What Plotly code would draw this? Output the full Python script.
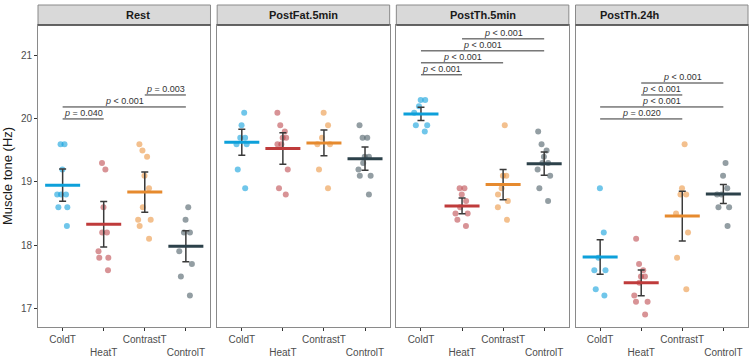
import plotly.graph_objects as go
from plotly.subplots import make_subplots

# ---------------- data ----------------
panels = ["Rest", "PostFat.5min", "PostTh.5min", "PostTh.24h"]
groups = ["ColdT", "HeatT", "ContrastT", "ControlT"]
tick_labels = ["ColdT", "<br>HeatT", "ContrastT", "<br>ControlT"]

rest_cold = [19.6, 19.6, 19.2, 18.8, 18.8, 18.8, 18.6, 18.6, 18.3]
rest_heat = [19.3, 19.2, 18.6, 18.2, 18.2, 17.9, 17.8, 17.8, 17.6]
rest_contrast = [19.6, 19.5, 19.4, 19.1, 18.9, 18.6, 18.4, 18.4, 18.3, 18.1]
rest_control = [18.6, 18.4, 18.2, 18.2, 17.9, 17.7, 17.5, 17.2]

fat5_cold = [20.1, 19.9, 19.7, 19.7, 19.6, 19.6, 19.2, 18.9]
fat5_heat = [20.1, 19.9, 19.8, 19.7, 19.7, 19.6, 19.6, 19.2, 18.9, 18.8]
fat5_contrast = [20.1, 19.9, 19.7, 19.6, 19.6, 19.2, 18.9]
fat5_control = [19.9, 19.7, 19.7, 19.4, 19.4, 19.3, 19.2, 19.1, 19.1, 18.8]

th5_cold = [20.3, 20.3, 20.2, 20.1, 19.9, 19.9, 19.8]
th5_heat = [18.9, 18.9, 18.8, 18.7, 18.6, 18.5, 18.5, 18.4, 18.3]
th5_contrast = [19.9, 19.1, 19.1, 18.9, 18.8, 18.7, 18.6, 18.4]
th5_control = [19.8, 19.6, 19.5, 19.4, 19.3, 19.3, 19.2, 19.1, 18.9, 18.7]

th24_cold = [18.9, 18.2, 17.8, 17.6, 17.6, 17.3, 17.2]
th24_heat = [18.1, 17.7, 17.6, 17.5, 17.5, 17.4, 17.2, 17.1, 17.1, 16.9]
th24_contrast = [19.6, 18.9, 18.8, 18.8, 18.5, 18.2, 17.8, 17.3]
th24_control = [19.3, 19.1, 18.9, 18.8, 18.8, 18.6, 18.6, 18.3]

rest_means = [18.95, 18.33, 18.84, 17.98]
rest_se = [0.255, 0.36, 0.32, 0.245]
fat5_means = [19.63, 19.53, 19.62, 19.37]
fat5_se = [0.205, 0.25, 0.205, 0.185]
th5_means = [20.08, 18.62, 18.96, 19.29]
th5_se = [0.105, 0.125, 0.24, 0.185]
th24_means = [17.81, 17.40, 18.46, 18.81]
th24_se = [0.275, 0.205, 0.395, 0.15]

rest_pairs = [("ColdT", "HeatT", "= 0.040"), ("ColdT", "ControlT", "< 0.001"),
              ("ContrastT", "ControlT", "= 0.003")]
fat5_pairs = []
th5_pairs = [("ColdT", "HeatT", "< 0.001"), ("ColdT", "ContrastT", "< 0.001"),
             ("ColdT", "ControlT", "< 0.001"), ("HeatT", "ControlT", "< 0.001")]
th24_pairs = [("ColdT", "ContrastT", "= 0.020"), ("ColdT", "ControlT", "< 0.001"),
              ("HeatT", "ContrastT", "< 0.001"), ("HeatT", "ControlT", "< 0.001")]

panel_points = [
    [rest_cold, rest_heat, rest_contrast, rest_control],
    [fat5_cold, fat5_heat, fat5_contrast, fat5_control],
    [th5_cold, th5_heat, th5_contrast, th5_control],
    [th24_cold, th24_heat, th24_contrast, th24_control],
]
panel_means = [rest_means, fat5_means, th5_means, th24_means]
panel_se = [rest_se, fat5_se, th5_se, th24_se]
panel_pairs = [rest_pairs, fat5_pairs, th5_pairs, th24_pairs]

# ---------------- styles ----------------
point_colors = ["rgba(16,160,220,0.6)", "rgba(184,58,63,0.55)",
                "rgba(234,140,50,0.55)", "rgba(58,79,87,0.55)"]
mean_colors = ["#0DA0DA", "#BF3B3B", "#E68A2E", "#2C414A"]
FONT = "Liberation Sans, Arial, sans-serif"

W, H = 753, 360
ML, MR, MT, MB = 38, 5, 25, 33
plot_w = W - ML - MR
plot_h = H - MT - MB
gap = 6.67

fig = make_subplots(rows=1, cols=4, shared_yaxes=True,
                    horizontal_spacing=gap / plot_w)

for p, pname in enumerate(panels):
    col = p + 1
    for g, gname in enumerate(groups):
        vals = panel_points[p][g]
        fig.add_trace(go.Box(
            x=[gname] * len(vals), y=vals,
            boxpoints="all", jitter=0.5, pointpos=0, width=0.8,
            marker=dict(color=point_colors[g], size=6, line=dict(width=0)),
            line=dict(width=0, color="rgba(0,0,0,0)"),
            fillcolor="rgba(0,0,0,0)",
            hoverinfo="y", showlegend=False,
        ), row=1, col=col)
    for g, gname in enumerate(groups):
        fig.add_trace(go.Scatter(
            x=[gname], y=[panel_means[p][g]], mode="markers",
            marker=dict(symbol="line-ew", size=25,
                        line=dict(color=mean_colors[g], width=3)),
            error_y=dict(type="data", array=[panel_se[p][g]], visible=True,
                         color="#3a3a3a", thickness=1.5, width=3.5),
            showlegend=False, hoverinfo="y",
        ), row=1, col=col)

    # significance brackets
    allvals = [v for arr in panel_points[p] for v in arr]
    base = max(allvals) + 0.4
    step = 0.19
    xref = "x" if col == 1 else f"x{col}"
    yref = "y" if col == 1 else f"y{col}"
    for k, (a, b, lab) in enumerate(panel_pairs[p]):
        lvl = base + k * step
        ia, ib = groups.index(a), groups.index(b)
        fig.add_shape(type="line", xref=xref, yref=yref,
                      x0=ia, x1=ib, y0=lvl, y1=lvl,
                      line=dict(color="#333333", width=1))
        fig.add_annotation(xref=xref, yref=yref, x=(ia + ib) / 2, y=lvl,
                           text=f"<i>p</i> {lab}", showarrow=False,
                           yanchor="bottom", yshift=-1,
                           font=dict(size=9, color="#333333", family=FONT))

    # strip
    dom = fig.layout[f"xaxis{'' if col == 1 else col}"].domain
    fig.add_shape(type="rect", xref="paper", yref="paper",
                  x0=dom[0], x1=dom[1], y0=1, y1=1 + 20 / plot_h,
                  fillcolor="#D9D9D9", line=dict(color="#8a8a8a", width=1),
                  layer="above")
    fig.add_shape(type="line", xref="paper", yref="paper",
                  x0=dom[0], x1=dom[1], y0=1, y1=1,
                  line=dict(color="#444444", width=1.5), layer="above")
    fig.add_annotation(xref="paper", yref="paper", x=(dom[0] + dom[1]) / 2,
                       y=1 + 10 / plot_h, text="<b>" + pname + "</b>",
                       showarrow=False, yanchor="middle",
                       font=dict(size=11, color="#1a1a1a", family=FONT))

fig.update_xaxes(type="category", categoryorder="array", categoryarray=groups,
                 tickmode="array", tickvals=groups, ticktext=tick_labels,
                 tickangle=0, automargin=False,
                 range=[-0.6, 3.6], showgrid=False, zeroline=False,
                 showline=True, mirror=True, linecolor="#8a8a8a", linewidth=1,
                 ticks="outside", ticklen=3, tickcolor="#333333",
                 tickfont=dict(size=10, color="#4d4d4d", family=FONT))
fig.update_yaxes(range=[16.70, 21.49], tickvals=[17, 18, 19, 20, 21],
                 showgrid=False, zeroline=False, automargin=False,
                 showline=True, mirror=True, linecolor="#8a8a8a", linewidth=1,
                 ticks="", tickfont=dict(size=10, color="#4d4d4d", family=FONT))
fig.update_yaxes(ticks="outside", ticklen=3, tickcolor="#333333",
                 title=dict(text="Muscle tone (Hz)", standoff=6,
                            font=dict(size=13, color="#1a1a1a", family=FONT)),
                 row=1, col=1)

fig.update_layout(width=W, height=H, margin=dict(l=ML, r=MR, t=MT, b=MB),
                  plot_bgcolor="white", paper_bgcolor="white",
                  boxmode="overlay", showlegend=False,
                  font=dict(family=FONT))

fig.write_html("out.html", config={"displayModeBar": False},
               post_script="document.body.style.margin='0';"
                           "document.body.style.overflow='hidden';")
